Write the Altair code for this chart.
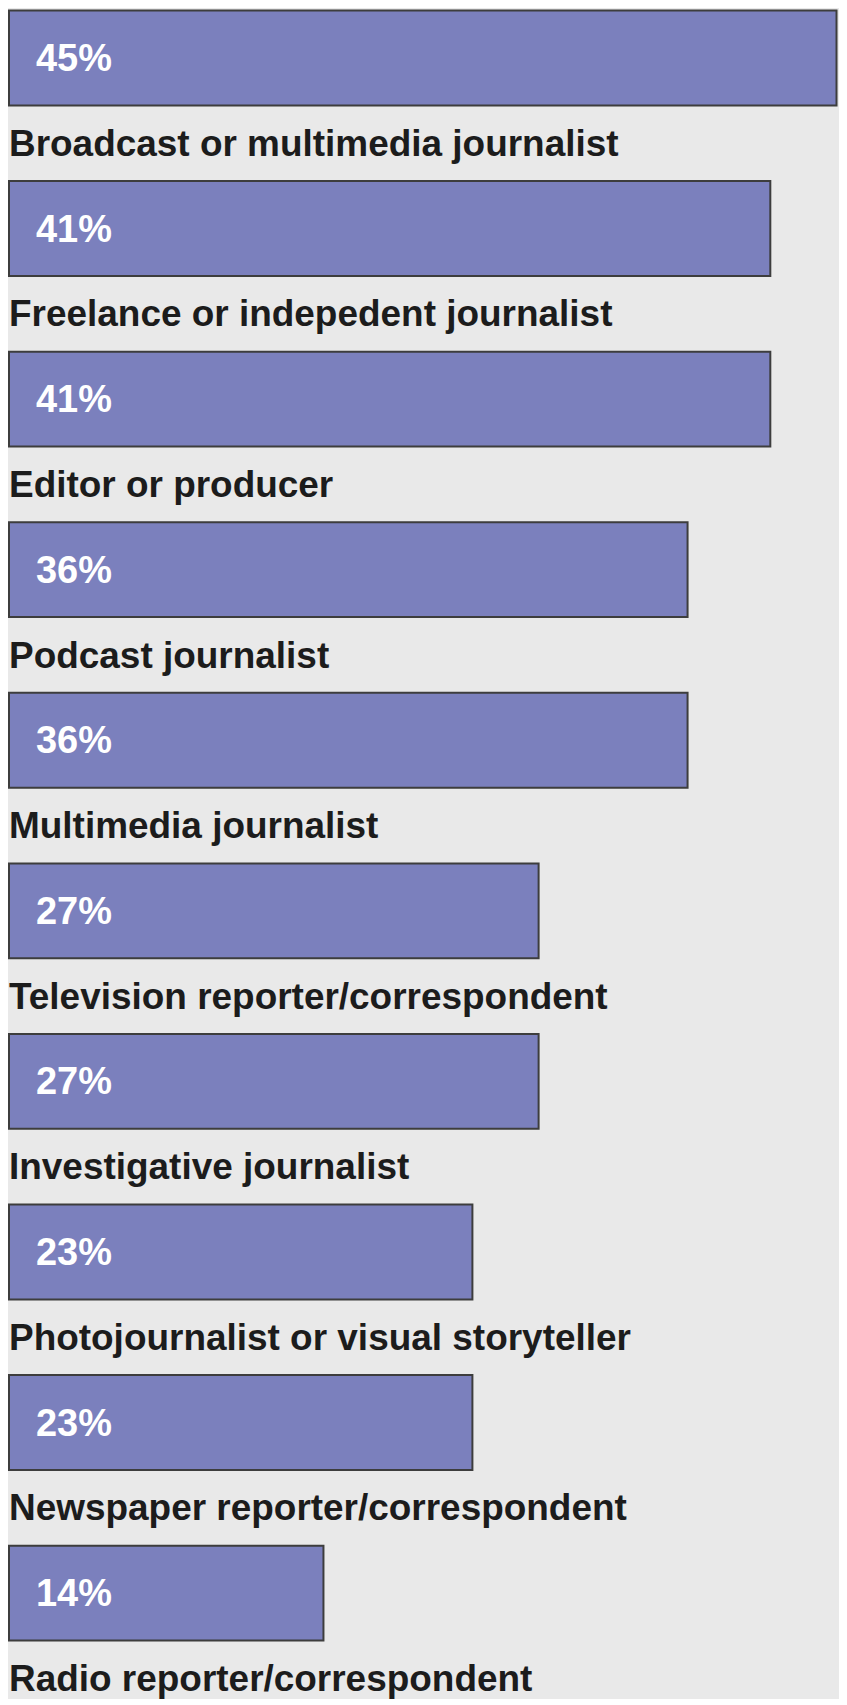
import altair as alt
import pandas as pd

categories = [
    "Broadcast or multimedia journalist",
    "Freelance or indepedent journalist",
    "Editor or producer",
    "Podcast journalist",
    "Multimedia journalist",
    "Television reporter/correspondent",
    "Investigative journalist",
    "Photojournalist or visual storyteller",
    "Newspaper reporter/correspondent",
    "Radio reporter/correspondent",
]
values = [45, 41, 41, 36, 36, 27, 27, 23, 23, 14]

df = pd.DataFrame({"role": categories, "value": values})
df["pct"] = [f"{v}%" for v in values]

W, H = 831, 1689
X_MIN = -5

y = alt.Y("role:N", sort=categories, axis=None,
          scale=alt.Scale(type="point", padding=0, range=[47, 1584]))
xs = alt.Scale(domain=[X_MIN, 45.15], range=[0, W], nice=False, zero=False)

base = alt.Chart(df)

bars = base.mark_bar(height=95, color="#7b80bd", stroke="#3d3d3d",
                     strokeWidth=2).encode(
    y=y,
    x=alt.X("value:Q", scale=xs, axis=None),
    x2=alt.datum(X_MIN),
)

pct = base.mark_text(align="left", baseline="alphabetic", dy=13,
                     font="Liberation Sans", fontWeight="bold",
                     fontSize=38, color="white").encode(
    y=y,
    x=alt.value(27),
    text="pct:N",
)

labels = base.mark_text(align="left", baseline="alphabetic", dy=98,
                        font="Liberation Sans", fontWeight="bold",
                        fontSize=37, color="#1c1c1c").encode(
    y=y,
    x=alt.value(0),
    text="role:N",
)

chart = alt.layer(bars, pct, labels).properties(
    width=W, height=H, padding=0, background="#e9e9e9"
).configure_view(stroke=None)

chart.save("out.html", embed_options={"renderer": "svg", "actions": False})
